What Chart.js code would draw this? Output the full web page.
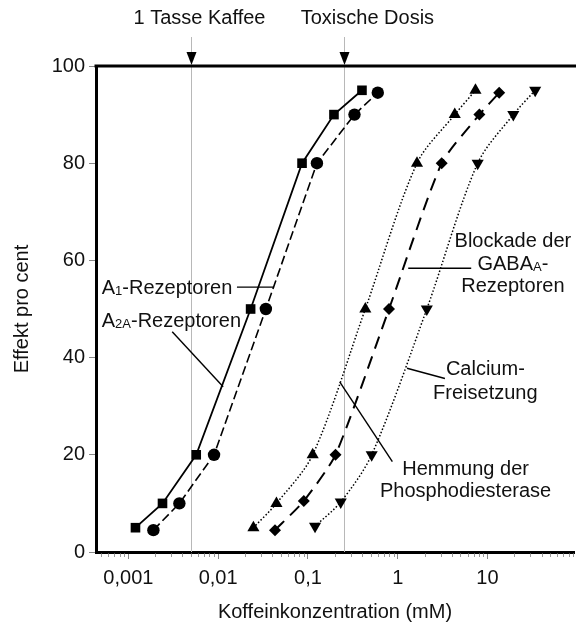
<!DOCTYPE html>
<html><head><meta charset="utf-8">
<script src="https://cdn.jsdelivr.net/npm/chart.js@4/dist/chart.umd.min.js"></script>
<style>html,body{margin:0;padding:0;background:#fff;overflow:hidden}#wrap{width:581px;height:634px;position:relative}</style>
</head><body><div id="wrap"><canvas id="c" width="581" height="634"></canvas></div>
<script>
// ---- data ----
const xTickValues = [0.001, 0.01, 0.1, 1, 10];
const xTickLabels = ['0,001', '0,01', '0,1', '1', '10'];
const yTickValues = [0, 20, 40, 60, 80, 100];
const seriesNames = ['A1-Rezeptoren', 'A2A-Rezeptoren', 'Hemmung der Phosphodiesterase', 'Blockade der GABAA-Rezeptoren', 'Calcium-Freisetzung'];
const a1X = [0.0012, 0.0024, 0.0057, 0.023, 0.086, 0.195, 0.40];
const a1Y = [5, 10, 20, 50, 80, 90, 95];
const a2aX = [0.0019, 0.0037, 0.009, 0.034, 0.126, 0.33, 0.60];
const a2aY = [4.5, 10, 20, 50, 80, 90, 94.5];
const pdeX = [0.0247, 0.0446, 0.113, 0.436, 1.64, 4.32, 7.35];
const pdeY = [5, 10, 20, 50, 80, 90, 95];
const gabaX = [0.043, 0.09, 0.203, 0.80, 3.09, 8.13, 13.5];
const gabaY = [4.5, 10.5, 20, 50, 80, 90, 94.5];
const caX = [0.12, 0.232, 0.513, 2.11, 7.78, 19.4, 34.0];
const caY = [5.3, 10.3, 20, 50, 80, 90, 95];
const markerNames = ['1 Tasse Kaffee', 'Toxische Dosis'];
const markerValues = [0.005, 0.25];
const markerLabelX = [0.0062, 0.46];
const xMin = 0.000436, xMax = 92;

// ---- annotations (data coordinates) ----
const notes = [
  {align: 'left', x: 0.000505, lines: [[{t: 'A'}, {t: '1', sub: true}, {t: '-Rezeptoren'}]], ys: [54.5],
   leader: [[0.0162, 54.5], [0.042, 54.5]]},
  {align: 'left', x: 0.000505, lines: [[{t: 'A'}, {t: '2A', sub: true}, {t: '-Rezeptoren'}]], ys: [47.7],
   leader: [[0.00308, 45.3], [0.01137, 34.0]]},
  {align: 'center', x: 19.2, lines: [[{t: 'Blockade der'}], [{t: 'GABA'}, {t: 'A', sub: true}, {t: '-'}], [{t: 'Rezeptoren'}]], ys: [64.2, 59.5, 54.9],
   leader: [[1.31, 58.4], [6.59, 58.4]]},
  {align: 'center', x: 9.47, lines: [[{t: 'Calcium-'}], [{t: 'Freisetzung'}]], ys: [37.8, 33.0],
   leader: [[1.27, 37.8], [3.36, 35.7]]},
  {align: 'center', x: 5.70, lines: [[{t: 'Hemmung der'}], [{t: 'Phosphodiesterase'}]], ys: [17.2, 12.8],
   leader: [[0.226, 35.0], [0.872, 18.6]]}
];

const FONT = '"Liberation Sans", Arial, Helvetica, sans-serif';
const FS = 20;
Chart.defaults.font.family = FONT;
Chart.defaults.font.size = FS;
Chart.defaults.color = '#111';

function pts(xs, ys) { return xs.map((x, i) => ({x: x, y: ys[i]})); }

function drawRich(ctx, parts, x, yc, align) {
  const main = FS + 'px ' + FONT, small = '13px ' + FONT;
  let w = 0;
  const ws = parts.map(p => { ctx.font = p.sub ? small : main; const m = ctx.measureText(p.t).width; w += m; return m; });
  let cx = align === 'center' ? x - w / 2 : (align === 'right' ? x - w : x);
  const base = yc + 7;
  ctx.textAlign = 'left'; ctx.textBaseline = 'alphabetic';
  parts.forEach((p, i) => { ctx.font = p.sub ? small : main; ctx.fillText(p.t, cx, base + (p.sub ? 1 : 0)); cx += ws[i]; });
}

const decor = {
  id: 'decor',
  beforeDatasetsDraw(chart) {
    const {ctx, chartArea: a, scales: {x}} = chart;
    ctx.save();
    ctx.strokeStyle = '#b8b8b8'; ctx.lineWidth = 1;
    markerValues.forEach(v => {
      const px = Math.round(x.getPixelForValue(v)) + 0.5;
      ctx.beginPath(); ctx.moveTo(px, a.top); ctx.lineTo(px, a.bottom); ctx.stroke();
    });
    ctx.restore();
  },
  afterDatasetsDraw(chart) {
    const {ctx, chartArea: a, scales: {x, y}} = chart;
    ctx.save();
    // top border
    ctx.strokeStyle = '#000'; ctx.lineWidth = 3;
    ctx.beginPath(); ctx.moveTo(a.left - 1.5, a.top); ctx.lineTo(a.right + 2, a.top); ctx.stroke();
    // minor ticks on x axis
    ctx.strokeStyle = '#999'; ctx.lineWidth = 1;
    for (let d = -4; d <= 2; d++) {
      for (let k = 2; k <= 9; k++) {
        const v = k * Math.pow(10, d);
        if (v <= xMin || v >= xMax) continue;
        const px = Math.round(x.getPixelForValue(v)) + 0.5;
        ctx.beginPath(); ctx.moveTo(px, a.bottom + 1.5); ctx.lineTo(px, a.bottom + 5); ctx.stroke();
      }
    }
    // top markers
    markerValues.forEach((v, i) => {
      const px = Math.round(x.getPixelForValue(v)) + 0.5;
      ctx.strokeStyle = '#b8b8b8'; ctx.lineWidth = 1;
      ctx.beginPath(); ctx.moveTo(px, a.top - 29); ctx.lineTo(px, a.top - 12); ctx.stroke();
      ctx.fillStyle = '#000';
      ctx.beginPath(); ctx.moveTo(px - 5, a.top - 14); ctx.lineTo(px + 5, a.top - 14); ctx.lineTo(px, a.top - 1); ctx.closePath(); ctx.fill();
      ctx.fillStyle = '#111';
      ctx.font = FS + 'px ' + FONT; ctx.textAlign = 'center'; ctx.textBaseline = 'middle';
      ctx.fillText(markerNames[i], x.getPixelForValue(markerLabelX[i]), a.top - 48);
    });
    // annotations
    ctx.fillStyle = '#111';
    notes.forEach(n => {
      n.lines.forEach((ln, i) => drawRich(ctx, ln, x.getPixelForValue(n.x), y.getPixelForValue(n.ys[i]), n.align));
      ctx.strokeStyle = '#000'; ctx.lineWidth = 1.4;
      ctx.beginPath();
      ctx.moveTo(x.getPixelForValue(n.leader[0][0]), y.getPixelForValue(n.leader[0][1]));
      ctx.lineTo(x.getPixelForValue(n.leader[1][0]), y.getPixelForValue(n.leader[1][1]));
      ctx.stroke();
    });
    ctx.restore();
  }
};

const common = {borderColor: '#000', pointBackgroundColor: '#000', pointBorderColor: '#000', pointBorderWidth: 0, fill: false};
new Chart(document.getElementById('c'), {
  type: 'line',
  data: {datasets: [
    Object.assign({label: seriesNames[0], data: pts(a1X, a1Y), borderWidth: 1.8, pointStyle: 'rect', pointRadius: 6.8, tension: 0}, common),
    Object.assign({label: seriesNames[1], data: pts(a2aX, a2aY), borderWidth: 1.6, borderDash: [9, 4], pointStyle: 'circle', pointRadius: 6.2, tension: 0}, common),
    Object.assign({label: seriesNames[2], data: pts(pdeX, pdeY), borderWidth: 1.5, borderDash: [1.5, 2], pointStyle: 'triangle', pointRadius: 7, tension: 0.3}, common),
    Object.assign({label: seriesNames[3], data: pts(gabaX, gabaY), borderWidth: 2, borderDash: [13, 8], pointStyle: 'rectRot', pointRadius: 6, tension: 0.2}, common),
    Object.assign({label: seriesNames[4], data: pts(caX, caY), borderWidth: 1.5, borderDash: [1.5, 2], pointStyle: 'triangle', rotation: 180, pointRotation: 180, pointRadius: 7, tension: 0.3}, common)
  ]},
  options: {
    responsive: false, animation: false, devicePixelRatio: 1,
    layout: {padding: {top: 66, right: 0, left: 0, bottom: 0}},
    plugins: {legend: {display: false}, tooltip: {enabled: false}},
    scales: {
      x: {
        type: 'logarithmic', min: xMin, max: xMax,
        afterBuildTicks: s => { s.ticks = xTickValues.map(v => ({value: v})); },
        afterFit: s => { s.height = 82; },
        ticks: {callback: (v, i) => xTickLabels[i], padding: 7, maxRotation: 0, autoSkip: false, color: '#111'},
        grid: {drawOnChartArea: false, drawTicks: true, tickLength: 7, tickColor: '#888', tickWidth: 1},
        border: {display: true, color: '#000', width: 3},
        title: {display: true, text: 'Koffeinkonzentration (mM)', color: '#111', padding: {top: 0, bottom: 10}}
      },
      y: {
        min: 0, max: 100,
        afterBuildTicks: s => { s.ticks = yTickValues.map(v => ({value: v})); },
        afterFit: s => { s.width = 96; },
        ticks: {padding: 4, color: '#111'},
        grid: {drawOnChartArea: false, drawTicks: true, tickLength: 7, tickColor: '#888', tickWidth: 1},
        border: {display: true, color: '#000', width: 3},
        title: {display: true, text: 'Effekt pro cent', color: '#111', padding: {top: 10, bottom: 0}}
      }
    }
  },
  plugins: [decor]
});
</script></body></html>
